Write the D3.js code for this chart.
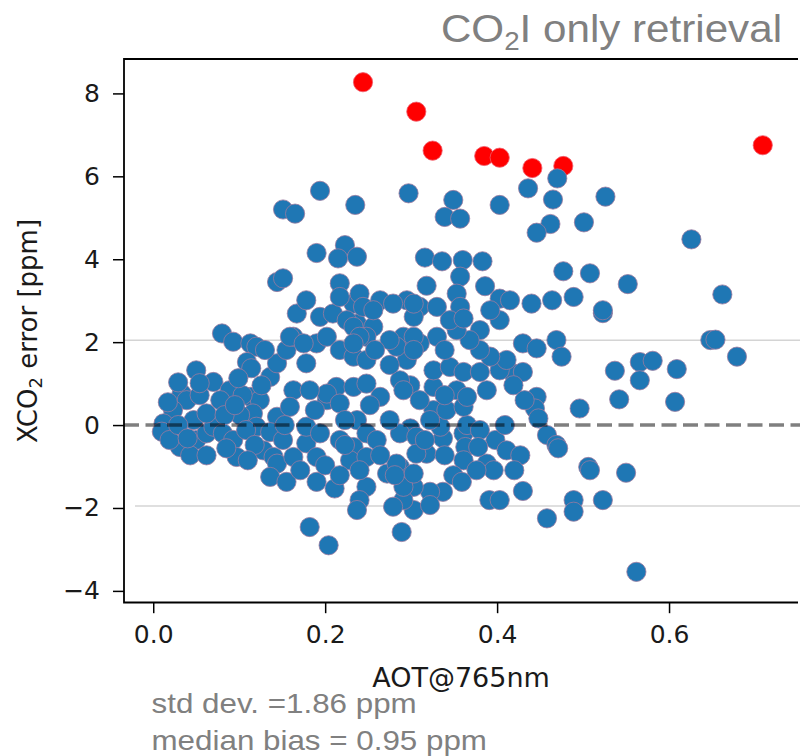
<!DOCTYPE html>
<html>
<head>
<meta charset="utf-8">
<script src="https://cdn.jsdelivr.net/npm/d3@7"></script>
<style>
  html, body { margin: 0; padding: 0; background: #fff; }
  svg { display: block; }
</style>
</head>
<body>
<svg id="chart" width="800" height="756"></svg>
<script>
// Retrievals flagged as outliers (drawn in red)
const redAot = [0.244, 0.306, 0.325, 0.385, 0.403, 0.441, 0.477, 0.709];
const redErr = [8.27, 7.56, 6.62, 6.49, 6.45, 6.20, 6.25, 6.75];

// All other retrievals: aerosol optical thickness vs XCO2 error
const blueAot = [
  0.297, 0.349, 0.339, 0.357, 0.403, 0.436, 0.470, 0.465, 0.462, 0.446,
  0.501, 0.526, 0.626, 0.316, 0.336, 0.360, 0.383, 0.477, 0.508, 0.552,
  0.662, 0.318, 0.357, 0.386, 0.489, 0.403, 0.415, 0.440, 0.464, 0.353,
  0.357, 0.295, 0.310, 0.330, 0.523, 0.648, 0.654, 0.679, 0.537, 0.566,
  0.581, 0.566, 0.609, 0.542, 0.607, 0.496, 0.446, 0.444, 0.448, 0.458,
  0.469, 0.471, 0.506, 0.508, 0.550, 0.430, 0.391, 0.403, 0.489, 0.489,
  0.523, 0.458, 0.562, 0.303, 0.289, 0.318, 0.337, 0.361, 0.363, 0.361,
  0.398, 0.411, 0.388, 0.396, 0.376, 0.349, 0.359, 0.337, 0.322, 0.303,
  0.291, 0.287, 0.291, 0.334, 0.299, 0.287, 0.365, 0.326, 0.341, 0.361,
  0.326, 0.299, 0.287, 0.353, 0.365, 0.388, 0.326, 0.345, 0.361, 0.380,
  0.419, 0.430, 0.419, 0.403, 0.411, 0.392, 0.380, 0.430, 0.446, 0.469,
  0.475, 0.380, 0.368, 0.353, 0.330, 0.310, 0.291, 0.295, 0.403, 0.392,
  0.345, 0.361, 0.080, 0.093, 0.113, 0.120, 0.109, 0.114, 0.050, 0.070,
  0.089, 0.033, 0.039, 0.023, 0.012, 0.010, 0.031, 0.050, 0.062, 0.070,
  0.047, 0.062, 0.078, 0.081, 0.093, 0.097, 0.113, 0.124, 0.116, 0.120,
  0.144, 0.136, 0.144, 0.155, 0.163, 0.178, 0.163, 0.159, 0.167, 0.178,
  0.128, 0.140, 0.144, 0.136, 0.155, 0.163, 0.178, 0.190, 0.178, 0.194,
  0.190, 0.211, 0.182, 0.204, 0.202, 0.213, 0.202, 0.217, 0.233, 0.248,
  0.264, 0.237, 0.217, 0.233, 0.229, 0.248, 0.260, 0.248, 0.248, 0.240,
  0.237, 0.272, 0.283, 0.291, 0.303, 0.279, 0.283, 0.291, 0.306, 0.306,
  0.190, 0.202, 0.217, 0.233, 0.248, 0.194, 0.209, 0.237, 0.256, 0.275,
  0.233, 0.264, 0.279, 0.303, 0.248, 0.303, 0.303, 0.194, 0.151, 0.165,
  0.235, 0.190, 0.223, 0.215, 0.237, 0.144, 0.151, 0.217, 0.217, 0.240,
  0.244, 0.303, 0.225, 0.256, 0.233, 0.240, 0.159, 0.175, 0.233, 0.019,
  0.043, 0.054, 0.101, 0.083, 0.108, 0.136, 0.151, 0.029, 0.104, 0.523,
  0.017, 0.029, 0.054, 0.095, 0.085, 0.062, 0.040, 0.126, 0.099, 0.130,
  0.118, 0.110, 0.200, 0.217, 0.171, 0.223, 0.188, 0.240, 0.264, 0.275,
  0.182, 0.153, 0.310, 0.322, 0.339, 0.380, 0.378, 0.339, 0.316, 0.409,
  0.427, 0.420, 0.339, 0.275, 0.258, 0.252, 0.223, 0.281, 0.322, 0.432
];
const blueErr = [
  5.59, 5.43, 5.02, 4.98, 5.31, 5.71, 5.95, 5.44, 4.85, 4.64,
  4.89, 5.51, 4.48, 4.04, 3.95, 3.98, 3.95, 3.71, 3.66, 3.40,
  3.15, 3.36, 3.58, 3.35, 3.09, 3.05, 3.01, 2.93, 3.01, 3.17,
  2.85, 3.01, 2.85, 2.85, 2.70, 2.05, 2.06, 1.65, 1.31, 1.52,
  1.55, 1.08, 1.35, 0.62, 0.56, 0.40, 0.68, 0.40, 0.16, -0.24,
  -0.48, -0.56, -1.01, -1.09, -1.15, -1.59, -1.81, -1.81, -1.81, -2.09,
  -1.81, -2.25, -3.54, -2.05, -2.58, -0.69, -0.32, -0.20, -0.53, -0.85,
  -0.36, -0.61, -0.93, -1.09, -1.09, -1.21, -1.37, -1.61, -1.61, -1.49,
  -1.33, -1.01, -1.81, -0.04, -0.08, -0.20, 0.00, 0.36, 0.36, 0.44,
  0.92, 0.96, 1.08, 0.84, 0.68, 0.84, 1.32, 1.40, 1.28, 1.28,
  1.24, 1.28, 0.96, 1.32, 1.57, 1.65, 1.81, 1.97, 1.85, 2.05,
  1.65, 2.29, 2.05, 2.29, 2.13, 1.97, 2.13, 1.57, 2.53, 2.77,
  2.53, 2.57, 2.21, 2.01, 1.97, 1.89, 1.52, 1.37, 1.32, 1.04,
  0.84, 0.76, 0.60, 0.36, 0.04, -0.16, -0.53, -0.36, -0.20, -0.04,
  0.12, 0.28, 0.60, -0.20, -0.36, -0.77, 0.68, 0.60, 0.28, -0.04,
  0.20, 1.16, 1.49, 1.81, 2.13, 1.49, 0.84, 0.44, 2.69, 3.01,
  -0.61, -0.77, -0.93, -1.25, -1.37, -0.77, -0.44, -0.77, -0.04, -0.20,
  -1.37, -1.53, -2.46, -2.90, 0.60, 0.92, 0.76, 0.52, 0.92, 1.00,
  0.68, 0.12, -0.36, -0.53, -0.85, -0.20, -0.36, -0.77, -1.49, -1.81,
  -2.05, -1.17, -0.93, -1.49, -1.17, -1.97, 1.89, 0.84, -0.28, -0.69,
  1.97, 2.13, 1.81, 1.65, 1.57, 2.61, 2.69, 2.45, 2.37, 2.05,
  2.93, 3.01, 2.93, 2.61, 2.13, 2.13, 1.81, 5.65, 5.20, 5.10,
  5.31, 4.15, 4.34, 4.02, 4.06, 3.45, 3.54, 3.42, 3.09, 3.17,
  2.85, 2.93, 2.53, 2.77, 2.37, 2.13, 2.13, 1.97, 1.97, -0.36,
  -0.73, 0.72, 0.24, 0.24, -0.12, -0.17, -0.36, 0.00, 0.72, 2.77,
  0.55, 1.03, 1.01, 0.48, -0.56, -0.73, -0.32, 0.96, 1.13, 1.81,
  -0.48, -0.85, -0.97, -1.21, -1.09, 0.12, 0.36, -1.09, -0.73, 0.12,
  0.84, 0.00, 0.60, 0.12, 0.72, -0.12, -0.53, -0.73, -0.36, 0.00,
  -0.73, -1.09, 1.81, 1.45, 1.81, 0.48, -0.48, -1.21, -1.93, 0.60
];

const xTicks = [0.0, 0.2, 0.4, 0.6];
const yTicks = [-4, -2, 0, 2, 4, 6, 8];
const guideLevels = [2, -2];

const svg = d3.select("#chart");
const plotLeft = 124, plotRight = 798, plotTop = 59, plotBottom = 602.5;

const x = d3.scaleLinear().domain([-0.034, 0.750]).range([plotLeft, plotRight]);
const y = d3.scaleLinear().domain([-4.28, 8.83]).range([plotBottom, plotTop]);

// Light horizontal guide lines at ±2 ppm
svg.append("g").selectAll("line")
  .data(guideLevels)
  .join("line")
  .attr("x1", d => d > 0 ? plotLeft : plotLeft + 11)
  .attr("x2", 800)
  .attr("y1", d => y(d) - 2)
  .attr("y2", d => y(d) - 2)
  .attr("stroke", "#d4d4d4")
  .attr("stroke-width", 1.5);

// Outliers first, regular points over them
const redPts = redAot.map((a, i) => ({ a, e: redErr[i] }));
const bluePts = blueAot.map((a, i) => ({ a, e: blueErr[i] }));

svg.append("g").selectAll("circle")
  .data(redPts)
  .join("circle")
  .attr("cx", d => x(d.a))
  .attr("cy", d => y(d.e))
  .attr("r", 9.6)
  .attr("fill", "#ff0000")
  .attr("stroke", "#f05a6a")
  .attr("stroke-width", 0.8);

svg.append("g").selectAll("circle")
  .data(bluePts)
  .join("circle")
  .attr("cx", d => x(d.a))
  .attr("cy", d => y(d.e))
  .attr("r", 9.6)
  .attr("fill", "#1f77b4")
  .attr("stroke", "#9a7a9e")
  .attr("stroke-width", 0.8);

// Zero-error reference line
svg.append("line")
  .attr("x1", plotLeft).attr("x2", 800)
  .attr("y1", y(0)).attr("y2", y(0))
  .attr("stroke", "#000")
  .attr("stroke-opacity", 0.5)
  .attr("stroke-width", 3.6)
  .attr("stroke-dasharray", "15,6.5");

// Axes
const xAxis = d3.axisBottom(x).tickValues(xTicks).tickFormat(d3.format(".1f"))
  .tickSize(10.7).tickPadding(12.5);
const yAxis = d3.axisLeft(y).tickValues(yTicks).tickFormat(d3.format("d"))
  .tickSize(11).tickPadding(13);

const gx = svg.append("g").attr("transform", `translate(0,${plotBottom})`).call(xAxis);
const gy = svg.append("g").attr("transform", `translate(${plotLeft},0)`).call(yAxis);
[gx, gy].forEach(g => {
  g.select(".domain").remove();
  g.selectAll(".tick line").attr("stroke", "#000").attr("stroke-width", 1.5);
  g.selectAll(".tick text")
    .attr("fill", "#1a1a1a")
    .style("font-family", "DejaVu Sans")
    .style("font-size", "25px");
});

// Frame
svg.append("path")
  .attr("d", `M${plotRight},${plotTop}H${plotLeft}V${plotBottom}H${plotRight}`)
  .attr("fill", "none")
  .attr("stroke", "#000")
  .attr("stroke-width", 1.8);

// Axis titles
svg.append("text")
  .attr("x", (plotLeft + plotRight) / 2)
  .attr("y", 687)
  .attr("text-anchor", "middle")
  .style("font-family", "DejaVu Sans")
  .style("font-size", "27px")
  .attr("fill", "#1a1a1a")
  .text("AOT@765nm");

const yl = svg.append("text")
  .attr("transform", `translate(37,331) rotate(-90)`)
  .attr("text-anchor", "middle")
  .style("font-family", "DejaVu Sans")
  .style("font-size", "26px")
  .attr("fill", "#1a1a1a");
yl.append("tspan").text("XCO");
yl.append("tspan").attr("dy", 5).style("font-size", "18px").text("2");
yl.append("tspan").attr("dy", -5).text(" error [ppm]");

// Title (slightly widened sans face)
const title = svg.append("g")
  .attr("transform", "translate(782,42) scale(1.11,1)")
  .append("text")
  .attr("text-anchor", "end")
  .style("font-family", "Liberation Sans")
  .style("font-size", "38px")
  .attr("fill", "#808080");
title.append("tspan").text("CO");
title.append("tspan").attr("dy", 8).style("font-size", "25px").text("2");
title.append("tspan").attr("dy", -8).text("I only retrieval");

// Summary statistics
const stats = ["std dev. =1.86 ppm", "median bias = 0.95 ppm"];
svg.append("g").selectAll("g")
  .data(stats)
  .join("g")
  .attr("transform", (d, i) => `translate(151.5,${713 + i * 37}) scale(1.12,1)`)
  .append("text")
  .style("font-family", "Liberation Sans")
  .style("font-size", "28px")
  .attr("fill", "#808080")
  .text(d => d);
</script>
</body>
</html>
